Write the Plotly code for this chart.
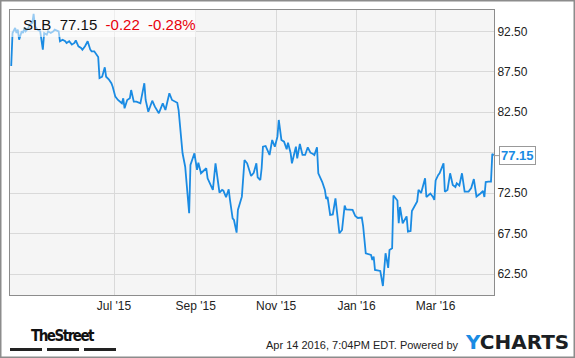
import pandas as pd
import plotly.graph_objects as go

# ---- data ----
ticker = "SLB"
last_price = "77.15"
change = "-0.22"
change_pct = "-0.28%"
start_date = "2015-04-14"

day_offsets = [
    0, 1, 3, 4, 5, 6, 8, 9, 10, 11, 13, 14, 16, 17, 18, 20, 22, 24, 25, 27, 28, 30, 32, 33, 36,
    37, 39, 41, 42, 44, 46, 48, 49, 51, 53, 54, 56, 58, 60, 61, 63, 65, 66,
    67, 69, 71, 72, 74, 76, 77, 79, 81, 84, 85, 86, 88, 90, 91, 93, 95, 98, 101, 102, 104, 107,
    109, 112, 114, 115, 117, 119, 120, 122, 126, 127,
    128, 130, 132, 133, 135, 136, 139, 141, 142, 144, 146, 148, 149, 151, 153, 155, 158, 160,
    161, 163, 165, 166, 168, 169, 171, 172, 175, 177, 179, 182, 184, 186, 187, 189, 190, 191, 193,
    196, 198, 200, 202, 203, 205, 207, 209, 210, 212, 213, 216, 217, 219, 221, 223, 225, 227,
    229, 230, 232, 233, 236, 238, 239, 240, 242, 244, 246, 247, 249,
    251, 253, 254, 257, 259, 261, 263, 266, 267, 269, 273, 274, 275, 276, 280, 282, 284, 285,
    286, 287, 289, 290, 293, 294, 295, 297, 299, 300, 301, 303, 304, 308, 309, 311, 314, 315,
    318, 320, 321, 322, 324, 325, 328, 329, 331, 333, 335, 337, 338, 340, 342, 343, 344, 347,
    349, 351, 353, 356, 358, 359, 360, 362, 364, 365, 366,
]

prices = [
    88.22, 92.29, 92.91, 92.29, 92.70, 91.46, 92.50, 92.29, 92.91, 92.50, 92.91, 93.31, 93.52,
    94.64, 93.12, 92.70, 92.50, 90.23, 92.29, 92.08, 92.50, 92.29, 92.50, 92.70, 92.50, 91.27,
    91.46, 91.27, 91.06, 91.27, 90.85, 91.06, 91.39, 90.65, 90.44, 90.23, 90.65, 91.27, 90.23,
    90.03, 90.03, 89.61, 89.33,
    86.73, 86.89, 88.06, 86.89, 86.57, 86.08, 85.66, 84.43, 84.02, 83.61, 84.23, 82.99, 84.02,
    84.23, 85.25, 83.81, 83.81, 83.61, 86.08, 84.02, 82.57, 83.93, 83.19, 82.38, 83.19, 83.61,
    82.78, 84.43, 84.85, 84.02, 83.68, 82.78,
    80.72, 77.44, 75.78, 73.77, 70.03, 75.99, 77.44, 75.38, 76.28, 74.97, 75.29, 75.59, 74.35,
    73.52, 72.91, 76.20, 72.57, 72.91, 72.82, 72.01, 72.99, 71.67, 69.41, 69.20, 67.64, 70.44,
    72.08, 76.61, 76.20, 74.64, 75.04, 76.20, 74.47, 74.14, 75.59, 78.25, 78.34,
    77.23, 79.08, 78.25, 79.49, 81.55, 79.08, 78.87, 77.93, 78.75, 77.44, 76.20, 78.25, 76.82,
    78.59, 77.23, 77.23, 78.18, 77.51, 77.35, 77.23, 78.18, 74.97, 73.89, 72.91, 71.80, 72.04,
    69.82, 69.88, 71.88, 70.65, 67.56,
    67.97, 70.99, 70.52, 70.44, 70.44, 69.70, 69.45, 69.51, 68.46, 65.09, 64.88, 64.26, 64.67,
    63.03, 62.91, 61.05, 65.09, 64.26, 63.28, 65.50, 65.71, 72.23, 71.61, 68.80, 70.81, 68.80,
    69.45, 69.64, 67.76, 67.85, 70.31, 71.49, 72.91, 72.54, 74.35, 72.04, 72.47, 72.04, 71.67,
    74.08, 74.76, 74.97, 76.20, 72.70, 72.91, 74.97, 73.52, 73.28, 73.73, 73.46, 74.97, 73.52,
    72.70, 72.72, 73.15, 74.26, 72.10, 72.47, 72.78, 72.04, 73.89, 73.93, 73.93, 77.37, 77.15,
]

x_tick_dates = ["2015-07-01", "2015-09-01", "2015-11-01", "2016-01-01", "2016-03-01"]
x_tick_labels = ["Jul '15", "Sep '15", "Nov '15", "Jan '16", "Mar '16"]
y_ticks = [62.5, 67.5, 72.5, 77.5, 82.5, 87.5, 92.5]
# the 77.50 label is hidden behind the last-price tag in the reference
y_tick_labels = ["62.50", "67.50", "72.50", "", "82.50", "87.50", "92.50"]
timestamp_text = "Apr 14 2016, 7:04PM EDT. Powered by"

# ---- build ----
base = pd.Timestamp(start_date)
dates = [base + pd.Timedelta(days=d) for d in day_offsets]

FONT = "Liberation Sans, Arial, sans-serif"
BLUE = "#1a8be3"

fig = go.Figure()
fig.add_trace(go.Scatter(
    x=dates, y=prices, mode="lines",
    line=dict(color=BLUE, width=1.8),
    hoverinfo="skip", showlegend=False,
))

x_range = [base - pd.Timedelta(hours=22), base + pd.Timedelta(hours=366 * 24 + 7)]

fig.update_layout(
    width=575, height=358,
    margin=dict(l=10, r=81, t=10, b=63),
    paper_bgcolor="white",
    plot_bgcolor="#f5f5f5",
    font=dict(family=FONT, size=12, color="#222"),
    showlegend=False,
    xaxis=dict(
        type="date", range=x_range,
        tickvals=x_tick_dates, ticktext=x_tick_labels,
        showgrid=True, gridcolor="#d9d9d9", gridwidth=1,
        showline=True, linecolor="#8c8c8c", linewidth=1, mirror=True,
        zeroline=False, ticks="", tickfont=dict(size=12, color="#222"),
        fixedrange=True,
    ),
    yaxis=dict(
        side="right", range=[59.94, 95.13],
        tickvals=y_ticks, ticktext=y_tick_labels,
        showgrid=True, gridcolor="#d9d9d9", gridwidth=1,
        showline=True, linecolor="#8c8c8c", linewidth=1, mirror=True,
        zeroline=False, ticks="", tickfont=dict(size=12, color="#222"),
        fixedrange=True,
    ),
)

pw, ph, ml, mt = 484.0, 285.0, 10.0, 10.0


def px_to_paper_x(px):
    return (px - ml) / pw


def px_to_paper_y(py):
    return (mt + ph - py) / ph


shapes = [
    # header translucent box
    dict(type="rect", xref="paper", yref="paper",
         x0=0, x1=px_to_paper_x(196), y0=px_to_paper_y(37), y1=1,
         fillcolor="rgba(255,255,255,0.55)", line=dict(width=0), layer="above"),
    # outer frame
    dict(type="rect", xref="paper", yref="paper",
         x0=px_to_paper_x(0.75), x1=px_to_paper_x(574.25),
         y0=px_to_paper_y(357.25), y1=px_to_paper_y(0.75),
         line=dict(color="#8c8c8c", width=1.5), fillcolor="rgba(0,0,0,0)"),
]
# TheStreet bars
for a, b in [(10, 42), (47, 79), (84, 116)]:
    shapes.append(dict(type="rect", xref="paper", yref="paper",
                       x0=px_to_paper_x(a), x1=px_to_paper_x(b),
                       y0=px_to_paper_y(351), y1=px_to_paper_y(348),
                       fillcolor="#222", line=dict(width=0)))
fig.update_layout(shapes=shapes)

annotations = [
    dict(xref="paper", yref="paper", x=px_to_paper_x(21), y=px_to_paper_y(24),
         xanchor="left", yanchor="middle", showarrow=False,
         text=(f"{ticker}&nbsp;&nbsp;{last_price}&nbsp;&nbsp;"
               f"<span style='color:#e8000b'>{change}&nbsp;&nbsp;{change_pct}</span>"),
         font=dict(size=15, color="#111", family=FONT)),
    dict(x=dates[-1], y=prices[-1], xref="x", yref="y",
         text=f"<b>{last_price}</b>", showarrow=True, ax=24, ay=0,
         arrowhead=0, arrowwidth=1, arrowcolor="#999", standoff=0,
         bgcolor="white", bordercolor="#999", borderwidth=1, borderpad=1,
         font=dict(size=13, color=BLUE, family=FONT)),
    dict(xref="paper", yref="paper", x=px_to_paper_x(63), y=px_to_paper_y(336),
         xanchor="center", yanchor="middle", showarrow=False,
         text="<b><span style='letter-spacing:-1.5px'>TheStreet</span></b>",
         font=dict(size=15, color="#111",
                   family="Liberation Sans Narrow, DejaVu Sans Condensed, Liberation Sans, sans-serif")),
    dict(xref="paper", yref="paper", x=px_to_paper_x(460), y=px_to_paper_y(345),
         xanchor="right", yanchor="middle", showarrow=False,
         text=timestamp_text, font=dict(size=11, color="#222", family=FONT)),
    dict(xref="paper", yref="paper", x=px_to_paper_x(463), y=px_to_paper_y(342),
         xanchor="left", yanchor="middle", showarrow=False,
         text="<b><span style='color:#1a8be3'>Y</span>CHARTS</b>",
         font=dict(size=20, color="#1b1f24", family="DejaVu Sans, sans-serif")),
]
fig.update_layout(annotations=annotations)

fig.write_html("out.html", config={"displayModeBar": False})
